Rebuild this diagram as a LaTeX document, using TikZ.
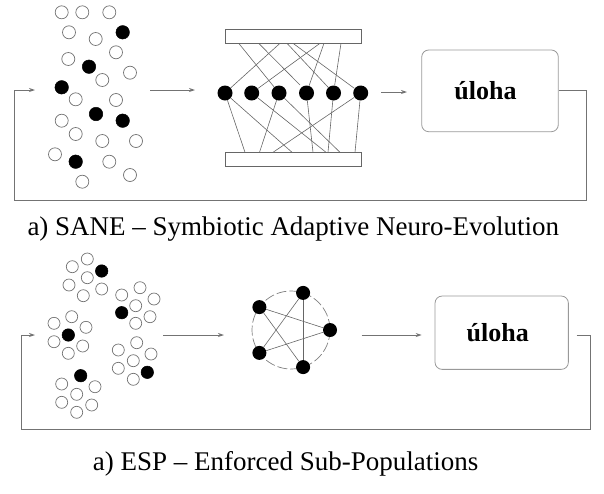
\documentclass[tikz,border=0pt]{standalone}
\usepackage{fontspec}
\setmainfont{Liberation Serif}
\usetikzlibrary{arrows.meta}
\begin{document}
\begin{tikzpicture}[x=1pt,y=-1pt,
  pop/.style={circle,draw=black!55,line width=0.7pt,fill=white,inner sep=0pt,minimum size=13pt},
  popb/.style={circle,fill=black,draw=black,line width=0.5pt,inner sep=0pt,minimum size=13.5pt},
  spop/.style={pop,minimum size=12pt},
  spopb/.style={popb,minimum size=12.5pt},
  neuron/.style={circle,fill=black,inner sep=0pt,minimum size=15pt},
  gnode/.style={circle,fill=black,inner sep=0pt,minimum size=14pt},
  wire/.style={draw=black!60,line width=0.6pt},
  ring/.style={draw=black!50,line width=0.7pt,dash pattern=on 10pt off 3pt},
  flow/.style={draw=black!55,line width=0.9pt},
  arr/.style={flow,-{Stealth[length=6pt,width=4pt]}},
  bar/.style={rectangle,draw=black!60,line width=0.8pt,minimum width=136pt,minimum height=14pt,inner sep=0pt},
  task/.style={rectangle,rounded corners=7pt,draw=black!40,line width=0.8pt,
    font=\bfseries\fontsize{26}{30}\selectfont,inner sep=0pt},
  caption/.style={anchor=base west,inner sep=0pt,font=\fontsize{27}{32}\selectfont}]

\useasboundingbox (0,0) rectangle (604,493);

% ---------- top: SANE ----------
\foreach \x/\y [count=\i] in {61.7/12.3, 82.3/12.3, 109.3/12.3, 69/32.3, 95.7/39,
  116/52.3, 68.3/59, 130/72.7, 102.3/80, 75.7/99.3, 116/100, 61.7/120.7,
  75.7/134, 102.3/141, 136/141, 55/154.3, 109.3/161.7, 82.3/181.7, 130/175}
  \node[pop] (p\i) at (\x,\y) {};
\foreach \x/\y [count=\i] in {122.7/32.3, 89/66.7, 61.7/87.3, 96/114, 122.7/120.7, 75.7/161.7}
  \node[popb] (pb\i) at (\x,\y) {};

\node[bar] (topbar) at (293,36.3) {};
\node[bar] (botbar) at (293,159) {};
\foreach \x [count=\i] in {225, 251.7, 279, 306.5, 333.5, 360.7}
  \node[neuron] (n\i) at (\x,93) {};

% connections from the upper bar
\coordinate (t1) at (238.7,43.3);
\coordinate (t2) at (258.7,43.3);
\coordinate (t3) at (280,43.3);
\coordinate (t4) at (287,43.3);
\coordinate (t5) at (293,43.3);
\coordinate (t6) at (320,43.3);
\coordinate (t7) at (324,43.3);
\coordinate (t8) at (341,43.3);
\coordinate (tend) at (300,85);
\draw[wire] (t1) -- (n3);
\draw[wire] (t2) -- (tend);
\draw[wire] (t3) -- (n1);
\draw[wire] (t4) -- (n5);
\draw[wire] (t5) -- (n6);
\draw[wire] (t6) -- (n2);
\draw[wire] (t7) -- (n4);
\draw[wire] (t8) -- (n5);
% connections to the lower bar
\coordinate (b1) at (245,152.3);
\coordinate (b2) at (292,152.3);
\coordinate (b3) at (326,152.3);
\coordinate (b4) at (259.5,152.3);
\coordinate (b5) at (340,152.3);
\coordinate (b6) at (313,152.3);
\coordinate (b7) at (328,152.3);
\coordinate (b8) at (273,152.3);
\coordinate (b9) at (355,152.3);
\draw[wire] (n1) -- (b1);
\draw[wire] (n1) -- (b2);
\draw[wire] (n2) -- (b3);
\draw[wire] (n3) -- (b4);
\draw[wire] (n3) -- (b5);
\draw[wire] (n4) -- (b6);
\draw[wire] (n5) -- (b7);
\draw[wire] (n6) -- (b8);
\draw[wire] (n6) -- (b9);

\node[task,minimum width=136.6pt,minimum height=81.7pt] (task1) at (490,90.85) {\hspace*{-9pt}úloha};

\coordinate (a1s) at (150,90);
\coordinate (a1e) at (195,90);
\coordinate (a2s) at (381,92);
\coordinate (a2e) at (407,92);
\draw[arr] (a1s) -- (a1e);
\draw[arr] (a2s) -- (a2e);
\coordinate (fr1) at (586,200);
\coordinate (fl1) at (14.3,200);
\coordinate (in1) at (35,90);
\draw[arr] (task1.east) -| (fr1) -- (fl1) |- (in1);

\node[caption] (cap1) at (27.3,235) {a) SANE \textendash{} Symbiotic Adaptive Neuro-Evolution};

% ---------- bottom: ESP ----------
\foreach \x/\y [count=\i] in {
  72.3/266.7, 87.3/259, 87.3/277.7, 69/285, 83.3/295.7, 101.7/289,
  121.7/295, 140/287.7, 154/299, 135.7/305.7, 150/316.7, 135.7/323.3,
  54/323.3, 71.7/316.7, 86/327.3, 54/341.7, 82.7/346, 68.3/353.3,
  118.3/350, 136.7/342.7, 151/354, 133.3/360.7, 118.3/368.3, 133.3/379.3,
  61.7/384, 95/386.7, 76.7/394.3, 61.7/402.3, 91.7/405, 76.7/412.3}
  \node[spop] (q\i) at (\x,\y) {};
\foreach \x/\y [count=\i] in {101.7/271, 121.7/312.7, 68.3/335, 147.3/372.3, 80.7/375.7}
  \node[spopb] (qb\i) at (\x,\y) {};

\draw[ring] (291,330) circle[radius=39];
\node[gnode] (g1) at (330,330) {};
\node[gnode] (g2) at (303.1,292.9) {};
\node[gnode] (g3) at (259.4,307.1) {};
\node[gnode] (g4) at (259.4,352.9) {};
\node[gnode] (g5) at (303.1,367.1) {};
\draw[wire] (g1) -- (g3);
\draw[wire] (g1) -- (g4);
\draw[wire] (g2) -- (g4);
\draw[wire] (g2) -- (g5);
\draw[wire] (g3) -- (g5);

\node[task,minimum width=133.3pt,minimum height=73.3pt] (task2) at (501.7,332.7) {\hspace*{-8pt}úloha};

\coordinate (a3s) at (163,335);
\coordinate (a3e) at (224,335);
\coordinate (a4s) at (361.7,335);
\coordinate (a4e) at (421.7,335);
\draw[arr] (a3s) -- (a3e);
\draw[arr] (a4s) -- (a4e);
\coordinate (o2) at (576.7,335);
\coordinate (fr2) at (590.7,429.5);
\coordinate (fl2) at (21,429.5);
\coordinate (in2) at (35,335);
\draw[arr] (o2) -| (fr2) -- (fl2) |- (in2);

\node[caption] (cap2) at (92.7,470) {a) ESP \textendash{} Enforced Sub-Populations};
\end{tikzpicture}
\end{document}
